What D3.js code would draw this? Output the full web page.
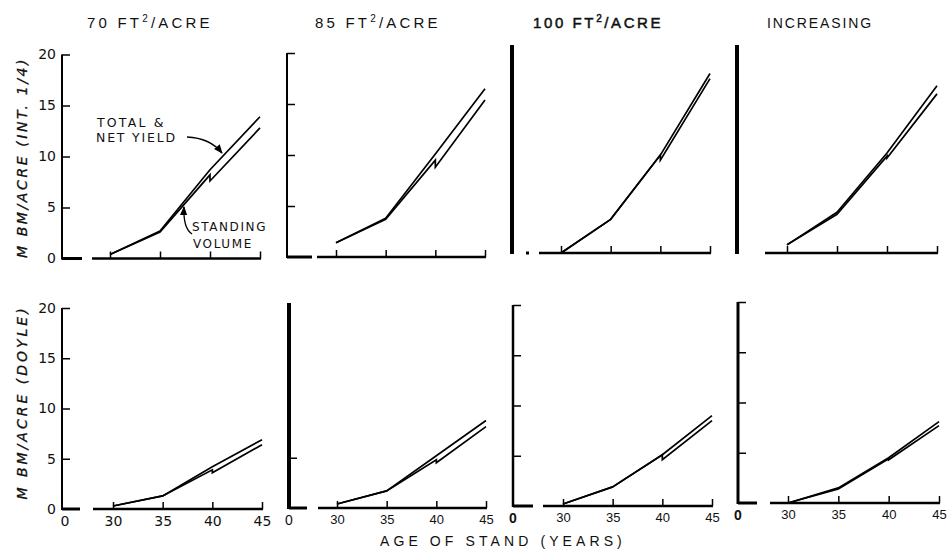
<!DOCTYPE html>
<html>
<head>
<meta charset="utf-8">
<script src="https://cdn.jsdelivr.net/npm/d3@7"></script>
<style>
  body { margin: 0; background: #fff; }
  svg { display: block; }
  text { fill: #111; }
</style>
</head>
<body>
<svg id="chart" width="947" height="554"></svg>
<script>
// ---- data -------------------------------------------------------------
const regimeNums = ["70", "85", "100"];
const regimeLast = "INCREASING";
const ages = [30, 35, 40, 45];                 // total & net yield
const standAges = [30, 35, 40, 40, 45];        // standing volume (drop = thinning at 40)
const yTickValues = [0, 5, 10, 15, 20];
const xTickValues = [30, 35, 40, 45];

// International 1/4-inch rule, M bd ft per acre
const intTotal70  = [0.4, 2.7, 8.7, 13.9];
const intStand70  = [0.4, 2.6, 8.2, 7.6, 12.8];
const intTotal85  = [1.4, 3.8, 10.1, 16.5];
const intStand85  = [1.4, 3.7, 9.5, 8.8, 15.4];
const intTotal100 = [0.0, 3.3, 9.6, 17.6];
const intStand100 = [0.0, 3.3, 9.6, 9.1, 17.1];
const intTotalInc = [0.8, 4.0, 9.8, 16.4];
const intStandInc = [0.8, 3.8, 9.5, 9.3, 15.6];

// Doyle rule, M bd ft per acre
const doyTotal70  = [0.3, 1.3, 4.2, 6.9];
const doyStand70  = [0.3, 1.3, 3.9, 3.6, 6.4];
const doyTotal85  = [0.4, 1.7, 5.2, 8.7];
const doyStand85  = [0.4, 1.7, 4.8, 4.5, 8.1];
const doyTotal100 = [0.2, 1.9, 5.1, 9.0];
const doyStand100 = [0.2, 1.9, 5.1, 4.6, 8.5];
const doyTotalInc = [0.0, 1.5, 4.5, 8.1];
const doyStandInc = [0.0, 1.4, 4.4, 4.3, 7.7];

const rowLabels = ["M BM/ACRE (INT. 1/4)", "M BM/ACRE (DOYLE)"];
const xTitle = "AGE OF STAND (YEARS)";

// ---- layout -----------------------------------------------------------
const svg = d3.select("#chart");

const rows = [
  { total: [intTotal70, intTotal85, intTotal100, intTotalInc],
    stand: [intStand70, intStand85, intStand100, intStandInc],
    axisX: [62, 287, 512, 737], zeroY: [258.5, 257, 253, 253], unit: 10.2,
    xr: [[110, 260], [336, 485], [561, 710], [787, 937]],
    yTicks: [[5, 10, 15, 20], [5, 10, 15, 20], [], []],
    axisW: [2, 2, 4, 4],
    leftSeg: [[0, 20], [0, 25], [14, 17], null],
    mainStart: [30, 30, 27, 28] },
  { total: [doyTotal70, doyTotal85, doyTotal100, doyTotalInc],
    stand: [doyStand70, doyStand85, doyStand100, doyStandInc],
    axisX: [62, 289, 513, 738], zeroY: [509, 508, 506, 503], unit: 10.05,
    xr: [[113, 262], [337, 486], [563, 712], [788, 939]],
    yTicks: [[5, 10, 15, 20], [5], [5, 10, 15, 20], [5, 10, 15, 20]],
    axisW: [2, 4, 2.5, 3],
    leftSeg: [[0, 18], [0, 18], [0, 20], [0, 19]],
    mainStart: [31, 29, 30, 32] }
];

const line = d3.line().x(d => d[0]).y(d => d[1]);

rows.forEach((row, r) => {
  for (let c = 0; c < 4; c++) {
    const ax = row.axisX[c], y0 = row.zeroY[c];
    const x = d3.scaleLinear().domain([30, 45]).range(row.xr[c]);
    const y = d3.scaleLinear().domain([0, 20]).range([y0, y0 - 20 * row.unit]);
    const g = svg.append("g");

    // vertical axis: heavy rule with inward ticks
    g.append("line")
      .attr("x1", ax).attr("x2", ax)
      .attr("y1", y(20) - (row.axisW[c] > 3 ? 4 : 0)).attr("y2", y0 + 1)
      .attr("stroke", "#000").attr("stroke-width", row.axisW[c]);
    const yAxis = d3.axisRight(y).tickValues(row.yTicks[c]).tickSize(8)
      .tickSizeOuter(0).tickFormat("");
    const ya = g.append("g").attr("transform", `translate(${ax},0)`).call(yAxis);
    ya.select(".domain").remove();
    ya.selectAll(".tick line").attr("stroke", "#000").attr("stroke-width", 1.5);

    // broken age axis: short stub at the origin, then 30-45
    if (row.leftSeg[c]) {
      g.append("line")
        .attr("x1", ax + row.leftSeg[c][0]).attr("x2", ax + row.leftSeg[c][1])
        .attr("y1", y0).attr("y2", y0)
        .attr("stroke", "#000").attr("stroke-width", 3);
    }
    g.append("line")
      .attr("x1", ax + row.mainStart[c]).attr("x2", x(45) + 1)
      .attr("y1", y0).attr("y2", y0)
      .attr("stroke", "#000").attr("stroke-width", 2.5);
    const xa = g.append("g").attr("transform", `translate(0,${y0})`)
      .call(d3.axisTop(x).tickValues(xTickValues).tickSize(7).tickFormat(""));
    xa.select(".domain").remove();
    xa.selectAll(".tick line").attr("stroke", "#000").attr("stroke-width", 1.5);

    // y tick labels only on the first column
    if (c === 0) {
      const yl = g.append("g").attr("transform", `translate(${ax},0)`)
        .call(d3.axisLeft(y).tickValues(yTickValues).tickSize(0).tickPadding(6));
      yl.select(".domain").remove();
      yl.selectAll("text")
        .attr("font-family", "'DejaVu Sans', sans-serif")
        .attr("font-size", 14).attr("fill", "#111");
    }

    // age labels on the bottom row
    if (r === 1) {
      const xl = g.append("g").attr("transform", `translate(0,${y0})`)
        .call(d3.axisBottom(x).tickValues(xTickValues).tickSize(0).tickPadding(7));
      xl.select(".domain").remove();
      xl.selectAll("text")
        .attr("font-family", c === 0 ? "'DejaVu Sans', sans-serif" : "'Liberation Sans', Arial, sans-serif")
        .attr("font-size", c === 0 ? 14 : 13).attr("fill", "#111");
      g.append("text")
        .attr("x", ax + (c === 0 ? 3 : 0)).attr("y", y0 + 17)
        .attr("text-anchor", "middle")
        .attr("font-family", c === 0 ? "'DejaVu Sans', sans-serif" : "'Liberation Sans', Arial, sans-serif")
        .attr("font-weight", c >= 2 ? "bold" : "normal")
        .attr("font-size", 14)
        .text("0");
    }

    // curves: total & net yield, standing volume
    g.append("path")
      .attr("d", line(ages.map((a, i) => [x(a), y(row.total[c][i])])))
      .attr("fill", "none").attr("stroke", "#000").attr("stroke-width", 1.7)
      .attr("stroke-linejoin", "round");
    g.append("path")
      .attr("d", line(standAges.map((a, i) => [x(a), y(row.stand[c][i])])))
      .attr("fill", "none").attr("stroke", "#000").attr("stroke-width", 1.7)
      .attr("stroke-linejoin", "miter");
  }
});

// ---- column titles -----------------------------------------------------
const titleX = [87, 315, 533, 767];
const titleFont = "'Liberation Sans', Arial, sans-serif";
regimeNums.forEach((n, i) => {
  const t = svg.append("text")
    .attr("x", titleX[i]).attr("y", 28)
    .attr("font-family", titleFont).attr("font-size", 15)
    .attr("stroke", i === 2 ? "#111" : "none").attr("stroke-width", 0.5)
    .attr("letter-spacing", i === 2 ? 2.6 : 3.2);
  t.append("tspan").text(`${n} FT`);
  t.append("tspan").attr("dy", -6).attr("font-size", 10).text("2");
  t.append("tspan").attr("dy", 6).text("/ACRE");
});
svg.append("text")
  .attr("x", titleX[3]).attr("y", 28)
  .attr("font-family", titleFont).attr("font-size", 14)
  .attr("letter-spacing", 1.9).text(regimeLast);

// ---- row labels ----------------------------------------------------------
[157.5, 402.5].forEach((cy, i) => {
  svg.append("text")
    .attr("transform", `translate(27,${cy}) rotate(-90)`)
    .attr("text-anchor", "middle")
    .attr("font-family", "'DejaVu Sans', sans-serif")
    .attr("font-style", "italic").attr("font-size", 14)
    .attr("stroke", "#111").attr("stroke-width", 0.3)
    .attr("letter-spacing", i === 0 ? 2.6 : 3.0)
    .text(rowLabels[i]);
});

// ---- shared age title -----------------------------------------------------
svg.append("text")
  .attr("x", 380).attr("y", 546)
  .attr("font-family", titleFont).attr("font-size", 14)
  .attr("letter-spacing", 4.1)
  .text(xTitle);

// ---- curve callouts in the first panel ----------------------------------------
const note = svg.append("g")
  .attr("font-family", "'DejaVu Sans', sans-serif");
note.append("text").attr("x", 97).attr("y", 127)
  .attr("font-size", 12.5).attr("letter-spacing", 2.2).text("TOTAL &");
note.append("text").attr("x", 96).attr("y", 142)
  .attr("font-size", 12.5).attr("letter-spacing", 1.8).text("NET YIELD");
note.append("text").attr("x", 192).attr("y", 231)
  .attr("font-size", 12).attr("letter-spacing", 1.6).text("STANDING");
note.append("text").attr("x", 193).attr("y", 248)
  .attr("font-size", 12).attr("letter-spacing", 1.6).text("VOLUME");

svg.append("defs").append("marker")
  .attr("id", "head").attr("viewBox", "0 0 10 10")
  .attr("refX", 9).attr("refY", 5)
  .attr("markerWidth", 7).attr("markerHeight", 7)
  .attr("orient", "auto-start-reverse")
  .append("path").attr("d", "M0,1 L10,5 L0,9 Z").attr("fill", "#000");

svg.append("path")
  .attr("d", "M187,137 Q210,138 222,153")
  .attr("fill", "none").attr("stroke", "#000").attr("stroke-width", 1.3)
  .attr("marker-end", "url(#head)");
svg.append("path")
  .attr("d", "M192,234 Q183,228 184,207")
  .attr("fill", "none").attr("stroke", "#000").attr("stroke-width", 1.3)
  .attr("marker-end", "url(#head)");
</script>
</body>
</html>
